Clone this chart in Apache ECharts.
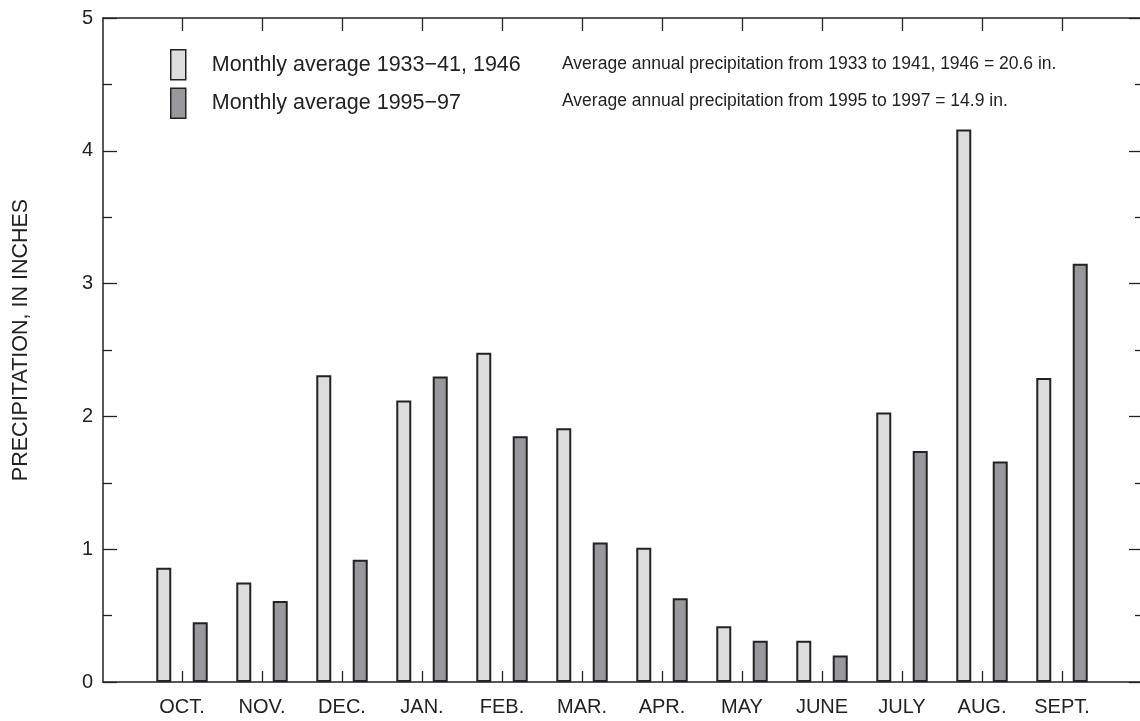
<!DOCTYPE html>
<html>
<head>
<meta charset="utf-8">
<style>html,body{margin:0;padding:0;background:#fff}#c{width:1140px;height:721px}</style>
<script src="https://cdn.jsdelivr.net/npm/echarts@6/dist/echarts.min.js"></script>
</head>
<body>
<div id="c"></div>
<script>
const months = ['OCT.', 'NOV.', 'DEC.', 'JAN.', 'FEB.', 'MAR.', 'APR.', 'MAY', 'JUNE', 'JULY', 'AUG.', 'SEPT.'];
const avg1933 = [0.86, 0.75, 2.31, 2.12, 2.48, 1.91, 1.01, 0.42, 0.31, 2.03, 4.16, 2.29];
const avg1995 = [0.45, 0.61, 0.92, 2.30, 1.85, 1.05, 0.63, 0.31, 0.20, 1.74, 1.66, 3.15];
const seriesNames = ['Monthly average 1933\u221241, 1946', 'Monthly average 1995\u221297'];
const notes = [
  'Average annual precipitation from 1933 to 1941, 1946 = 20.6 in.',
  'Average annual precipitation from 1995 to 1997 = 14.9 in.'
];
const yTitle = 'PRECIPITATION, IN INCHES';

const FONT = '"Liberation Sans", Arial, Helvetica, sans-serif';
const INK = '#222';
const LIGHT = '#dcdddf';
const DARK = '#98999c';

const chart = echarts.init(document.getElementById('c'));
const frameAxisLine = { show: true, onZero: false, lineStyle: { color: INK, width: 1.5 } };
const tickStyle = { color: INK, width: 1.3 };

chart.setOption({
  animation: false,
  backgroundColor: '#fff',
  textStyle: { fontFamily: FONT },
  grid: [
    { left: 103, right: 0, top: 18, bottom: 39, containLabel: false, outerBoundsMode: 'none' },
    { left: 142, right: 38, top: 18, bottom: 39, containLabel: false, outerBoundsMode: 'none' },
    { left: 182, right: 78, top: 18, bottom: 39, containLabel: false, outerBoundsMode: 'none' }
  ],
  legend: {
    orient: 'vertical',
    left: 170, top: 49, padding: 0,
    itemWidth: 15, itemHeight: 30, itemGap: 7,
    icon: 'rect',
    textStyle: { fontFamily: FONT, fontSize: 21.5, color: INK, padding: [0, 0, 0, 21] },
    data: [
      { name: seriesNames[0], itemStyle: { color: LIGHT, borderColor: INK, borderWidth: 1.5 } },
      { name: seriesNames[1], itemStyle: { color: DARK, borderColor: INK, borderWidth: 1.5 } }
    ]
  },
  graphic: [
    { type: 'text', left: 562, top: 55, style: { text: notes[0], font: '17.5px ' + FONT, fill: INK } },
    { type: 'text', left: 562, top: 92, style: { text: notes[1], font: '17.5px ' + FONT, fill: INK } }
  ],
  xAxis: [
    { type: 'value', gridIndex: 0, position: 'bottom', min: 0, max: 1, axisLine: frameAxisLine,
      axisTick: { show: false }, axisLabel: { show: false }, splitLine: { show: false } },
    { type: 'value', gridIndex: 0, position: 'top', min: 0, max: 1, axisLine: frameAxisLine,
      axisTick: { show: false }, axisLabel: { show: false }, splitLine: { show: false } },
    { type: 'category', gridIndex: 1, position: 'bottom', data: months,
      axisLine: { show: false },
      axisTick: { show: true, inside: true, alignWithLabel: true, interval: 0, length: 11, lineStyle: tickStyle },
      axisLabel: { fontFamily: FONT, fontSize: 20, color: INK, margin: 15, interval: 0 },
      splitLine: { show: false } },
    { type: 'category', gridIndex: 2, position: 'top', data: months, boundaryGap: false,
      axisLine: { show: true, onZero: false, lineStyle: { color: INK, width: 1, opacity: 0 } },
      axisTick: { show: true, inside: true, interval: 0, length: 13, lineStyle: tickStyle },
      axisLabel: { show: true, interval: 0, color: 'rgba(0,0,0,0)', fontSize: 10 },
      splitLine: { show: false } }
  ],
  yAxis: [
    { type: 'value', gridIndex: 0, position: 'left', min: 0, max: 5, interval: 1,
      axisLine: frameAxisLine,
      axisTick: { show: true, inside: true, length: 14, lineStyle: tickStyle },
      minorTick: { show: true, splitNumber: 2, length: 9, lineStyle: tickStyle },
      axisLabel: { fontFamily: FONT, fontSize: 20, color: INK, margin: 10 },
      splitLine: { show: false },
      name: yTitle, nameLocation: 'middle', nameRotate: 90, nameGap: 71,
      nameTextStyle: { fontFamily: FONT, fontSize: 21.5, color: INK, padding: [0, 0, 0, 20] } },
    { type: 'value', gridIndex: 0, position: 'right', min: 0, max: 5, interval: 1,
      axisLine: { show: true, onZero: false, lineStyle: { color: INK, width: 1.5, opacity: 0 } },
      axisTick: { show: true, inside: true, length: 11, lineStyle: tickStyle },
      minorTick: { show: true, splitNumber: 2, length: 5, lineStyle: tickStyle },
      axisLabel: { show: false }, splitLine: { show: false } },
    { type: 'value', gridIndex: 1, min: 0, max: 5, interval: 1, show: false },
    { type: 'value', gridIndex: 2, min: 0, max: 5, interval: 1, show: false }
  ],
  series: [
    { name: seriesNames[0], type: 'bar', xAxisIndex: 2, yAxisIndex: 2, data: avg1933,
      barWidth: 15, barGap: '143%',
      itemStyle: { color: LIGHT, borderColor: INK, borderWidth: 2 } },
    { name: seriesNames[1], type: 'bar', xAxisIndex: 2, yAxisIndex: 2, data: avg1995,
      barWidth: 15, barGap: '143%',
      itemStyle: { color: DARK, borderColor: INK, borderWidth: 2 } }
  ]
});
</script>
</body>
</html>
